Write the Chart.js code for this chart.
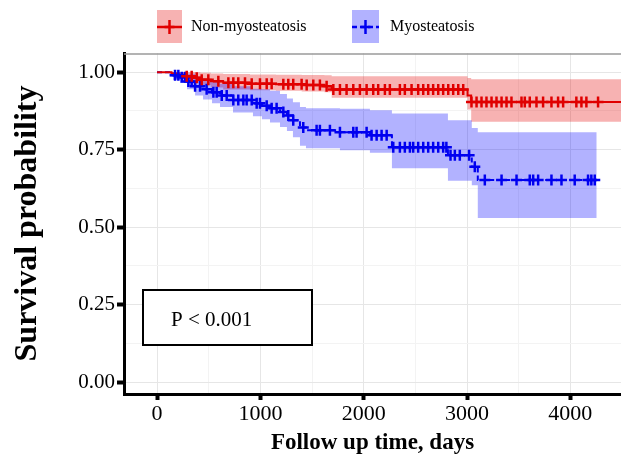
<!DOCTYPE html>
<html>
<head>
<meta charset="utf-8">
<script src="https://cdn.jsdelivr.net/npm/chart.js@4.4.1/dist/chart.umd.min.js"></script>
<style>
  html, body { margin: 0; padding: 0; background: #fff; }
</style>
</head>
<body>
<canvas id="km" width="621" height="455"></canvas>
<script>
// groups shown in the legend
const groups = ['Non-myosteatosis', 'Myosteatosis'];
const pText = 'P < 0.001';

// Non-myosteatosis: KM steps (days), survival and 95% CI
const redTimes = [0, 140, 210, 280, 350, 420, 520, 640, 900, 1150, 1400, 1620, 1690, 3005, 3040];
const redSurv  = [1, 0.996, 0.992, 0.987, 0.982, 0.976, 0.971, 0.966, 0.963, 0.961, 0.959, 0.955, 0.944, 0.925, 0.904];
const redUpper = [1, 1, 1, 1, 1, 0.998, 0.996, 0.994, 0.993, 0.992, 0.991, 0.99, 0.987, 0.981, 0.977];
const redLower = [1, 0.988, 0.981, 0.974, 0.966, 0.958, 0.951, 0.944, 0.942, 0.94, 0.938, 0.935, 0.918, 0.88, 0.84];
const redEnd = 4700;
const redCensor = [287, 335, 384, 432, 496, 593, 690, 738, 786, 851, 916, 996, 1061, 1109, 1222, 1270, 1318, 1399,
  1448, 1512, 1576, 1641, 1706, 1770, 1834, 1899, 1963, 2028, 2092, 2140, 2205, 2253, 2350, 2398, 2463, 2527, 2576,
  2624, 2672, 2721, 2769, 2818, 2866, 2915, 2963, 3043, 3092, 3140, 3188, 3237, 3285, 3334, 3382, 3430, 3527, 3559,
  3607, 3672, 3736, 3817, 3881, 3930, 4058, 4107, 4155, 4268];

// Myosteatosis
const blueTimes = [0, 126, 155, 222, 290, 368, 445, 532, 609, 735, 928, 1015, 1093, 1190, 1257, 1315, 1383, 1441, 1770, 2060, 2273, 2815, 3046, 3104];
const blueSurv  = [1, 0.995, 0.99, 0.984, 0.97, 0.955, 0.945, 0.935, 0.925, 0.91, 0.90, 0.892, 0.884, 0.872, 0.86, 0.845, 0.822, 0.813, 0.806, 0.797, 0.758, 0.732, 0.695, 0.652];
const blueUpper = [1, 1, 1, 1, 0.995, 0.985, 0.978, 0.97, 0.963, 0.955, 0.947, 0.945, 0.94, 0.93, 0.915, 0.903, 0.888, 0.884, 0.882, 0.877, 0.867, 0.845, 0.82, 0.806];
const blueLower = [1, 0.985, 0.975, 0.965, 0.945, 0.925, 0.912, 0.9, 0.888, 0.87, 0.858, 0.848, 0.838, 0.823, 0.81, 0.79, 0.763, 0.755, 0.748, 0.74, 0.69, 0.65, 0.635, 0.53];
const blueEnd = 4255;
const blueCensor = [174, 206, 239, 271, 303, 335, 368, 416, 480, 545, 577, 626, 674, 738, 786, 835, 867, 916, 964, 996,
  1061, 1109, 1157, 1222, 1270, 1318, 1415, 1544, 1576, 1673, 1770, 1899, 1931, 2028, 2076, 2125, 2173, 2222, 2286,
  2350, 2398, 2447, 2479, 2527, 2576, 2624, 2672, 2721, 2769, 2800, 2840, 2882, 2930, 3020, 3075, 3172, 3334, 3479,
  3607, 3640, 3688, 3817, 3914, 4042, 4171, 4203, 4236];

// axis ticks
const xTicks = [0, 1000, 2000, 3000, 4000];
const xMinor = [500, 1500, 2500, 3500];
const yTicks = [0, 0.25, 0.5, 0.75, 1];
const yMinor = [0.125, 0.375, 0.625, 0.875];

const RED = '#e00000', BLUE = '#0000f0';
const RED_FILL = 'rgba(230,0,0,0.3)', BLUE_FILL = 'rgba(0,0,255,0.3)';
const SERIF = '"Liberation Serif", "Times New Roman", serif';

function steps(times, vals, end) {
  const pts = times.map((t, i) => ({ x: t, y: vals[i] }));
  pts.push({ x: end, y: vals[vals.length - 1] });
  return pts;
}
function survAt(times, vals, t) {
  let s = vals[0];
  for (let i = 0; i < times.length; i++) if (times[i] <= t) s = vals[i];
  return s;
}
function censorPts(c, times, vals) {
  return c.map(t => ({ x: t, y: survAt(times, vals, t) }));
}

const band = (data, color, fill) => ({
  data, showLine: true, stepped: true, borderWidth: 0, borderColor: 'rgba(0,0,0,0)',
  pointRadius: 0, backgroundColor: color, fill: fill, order: 5
});

const overlay = {
  id: 'overlay',
  afterDraw(chart) {
    const ctx = chart.ctx, a = chart.chartArea;
    ctx.save();
    // top panel edge
    ctx.strokeStyle = '#9a9a9a';
    ctx.lineWidth = 1.5;
    ctx.beginPath(); ctx.moveTo(a.left, a.top + 1); ctx.lineTo(a.right, a.top + 1); ctx.stroke();

    // legend
    const keys = [
      { x: 157, w: 25, fill: RED_FILL, line: RED, dash: [], tx: 191 },
      { x: 352, w: 27, fill: BLUE_FILL, line: BLUE, dash: [5, 3], tx: 390 }
    ];
    keys.forEach((k, i) => {
      ctx.fillStyle = k.fill;
      ctx.fillRect(k.x, 10, k.w, 33);
      ctx.strokeStyle = k.line; ctx.lineWidth = 2.5;
      ctx.setLineDash(k.dash);
      ctx.beginPath(); ctx.moveTo(k.x, 27); ctx.lineTo(k.x + k.w, 27); ctx.stroke();
      ctx.setLineDash([]);
      const cx = k.x + k.w / 2;
      ctx.beginPath();
      ctx.moveTo(cx - 5, 27); ctx.lineTo(cx + 5, 27);
      ctx.moveTo(cx, 20); ctx.lineTo(cx, 34);
      ctx.stroke();
      ctx.fillStyle = '#000';
      ctx.font = '16px ' + SERIF;
      ctx.textBaseline = 'middle';
      ctx.textAlign = 'left';
      ctx.fillText(groups[i], k.tx, 27);
    });

    // p-value box
    ctx.fillStyle = '#fff';
    ctx.fillRect(143, 290, 169, 55);
    ctx.strokeStyle = '#000'; ctx.lineWidth = 2;
    ctx.strokeRect(143, 290, 169, 55);
    ctx.fillStyle = '#000';
    ctx.font = '21px ' + SERIF;
    ctx.textBaseline = 'middle';
    ctx.fillText(pText, 171, 320);
    ctx.restore();
  }
};

new Chart(document.getElementById('km'), {
  type: 'scatter',
  data: {
    datasets: [
      band(steps(redTimes, redUpper, redEnd), RED_FILL, '+1'),
      band(steps(redTimes, redLower, redEnd), RED_FILL, false),
      { ...band(steps(blueTimes, blueUpper, blueEnd), BLUE_FILL, '+1'), order: 4 },
      { ...band(steps(blueTimes, blueLower, blueEnd), BLUE_FILL, false), order: 4 },
      {
        label: groups[0], data: steps(redTimes, redSurv, redEnd), showLine: true, stepped: true,
        borderColor: RED, borderWidth: 2, pointRadius: 0, fill: false, order: 2
      },
      {
        label: groups[1], data: steps(blueTimes, blueSurv, blueEnd), showLine: true, stepped: true,
        borderColor: BLUE, borderWidth: 2, borderDash: [5, 3], pointRadius: 0, fill: false, order: 3
      },
      {
        data: censorPts(redCensor, redTimes, redSurv), pointStyle: 'cross', pointRadius: 5.5,
        borderColor: RED, borderWidth: 2.5, order: 1
      },
      {
        data: censorPts(blueCensor, blueTimes, blueSurv), pointStyle: 'cross', pointRadius: 5.5,
        borderColor: BLUE, borderWidth: 2.5, order: 1
      }
    ]
  },
  options: {
    responsive: false,
    animation: false,
    layout: { autoPadding: false, padding: { top: 53, left: 0, right: 0, bottom: 0 } },
    plugins: { legend: { display: false }, tooltip: { enabled: false } },
    scales: {
      x: {
        type: 'linear', min: -320, max: 4490,
        afterBuildTicks: s => { s.ticks = xTicks.concat(xMinor).sort((a, b) => a - b).map(v => ({ value: v })); },
        afterFit: s => { s.height = 61; },
        ticks: {
          color: '#000', font: { family: SERIF, size: 22 }, padding: 1, maxRotation: 0, autoSkip: false,
          callback: v => xTicks.includes(v) ? String(v) : ''
        },
        grid: {
          color: c => xTicks.includes(c.tick && c.tick.value) ? '#e6e6e6' : '#f3f3f3',
          lineWidth: 1, tickLength: 6, tickWidth: 4,
          tickColor: c => xTicks.includes(c.tick && c.tick.value) ? '#000' : 'rgba(0,0,0,0)'
        },
        border: { display: true, color: '#000', width: 3 },
        title: {
          display: true, text: 'Follow up time, days', color: '#000',
          font: { family: SERIF, size: 23, weight: 'bold', lineHeight: 1 }, padding: { top: 0, bottom: 0 }
        }
      },
      y: {
        type: 'linear', min: -0.038, max: 1.062,
        afterBuildTicks: s => { s.ticks = yTicks.concat(yMinor).sort((a, b) => a - b).map(v => ({ value: v })); },
        afterFit: s => { s.width = 124; },
        ticks: {
          color: '#000', font: { family: SERIF, size: 21 }, padding: 2, autoSkip: false,
          callback: v => yTicks.includes(v) ? v.toFixed(2) : ''
        },
        grid: {
          color: c => yTicks.includes(c.tick && c.tick.value) ? '#e6e6e6' : '#f3f3f3',
          lineWidth: 1, tickLength: 7, tickWidth: 4,
          tickColor: c => yTicks.includes(c.tick && c.tick.value) ? '#000' : 'rgba(0,0,0,0)'
        },
        border: { display: true, color: '#000', width: 3 },
        title: {
          display: true, text: 'Survival probability', color: '#000',
          font: { family: SERIF, size: 32, weight: 'bold', lineHeight: 1 }, padding: { top: 12, bottom: 0 }
        }
      }
    }
  },
  plugins: [overlay]
});
</script>
</body>
</html>
